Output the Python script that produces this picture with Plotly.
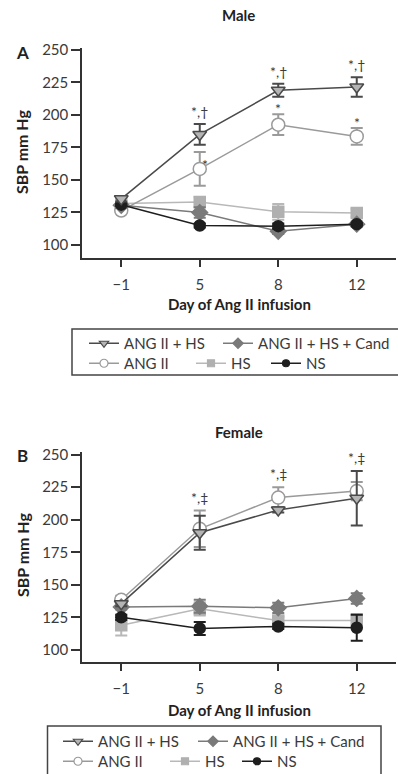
import plotly.graph_objects as go

days = ["\u22121", "5", "8", "12"]
series_names = ["ANG II + HS", "ANG II + HS + Cand", "ANG II", "HS", "NS"]

# Male (panel A)
male_angii_hs = [135.5, 185.0, 219.0, 221.5]
male_angii_hs_err = [2.0, 8.0, 5.0, 7.5]
male_cand = [130.5, 125.0, 110.5, 116.0]
male_cand_err = [2.0, 4.0, 2.0, 2.0]
male_angii = [126.5, 158.5, 192.5, 183.5]
male_angii_err = [2.0, 13.0, 8.0, 6.5]
male_hs = [132.0, 133.0, 125.5, 124.7]
male_hs_err = [2.0, 4.0, 6.0, 3.0]
male_ns = [131.0, 115.0, 114.5, 116.0]
male_ns_err = [1.0, 1.5, 2.0, 1.0]

# Female (panel B)
fem_angii_hs = [135.5, 190.0, 207.5, 216.5]
fem_angii_hs_err = [2.0, 13.0, 2.0, 21.0]
fem_cand = [133.0, 133.5, 132.3, 139.5]
fem_cand_err = [2.0, 5.0, 4.0, 4.0]
fem_angii = [138.5, 193.0, 217.0, 222.0]
fem_angii_err = [3.0, 14.0, 8.0, 7.0]
fem_hs = [119.0, 131.5, 122.5, 122.5]
fem_hs_err = [8.0, 5.0, 3.0, 5.0]
fem_ns = [125.0, 116.5, 118.0, 117.0]
fem_ns_err = [2.0, 5.0, 2.0, 10.0]

yticks = [100, 125, 150, 175, 200, 225, 250]
FONT = "Lato"
TXT = "#3a3a3a"
W, H = 398, 774

styles = {
    "ANG II + HS": dict(line="#4a4a4a", symbol="triangle-down", fill="#b4b4b4", mline="#4a4a4a", size=12, lsize=8),
    "ANG II + HS + Cand": dict(line="#7a7a7a", symbol="diamond", fill="#7a7a7a", mline="#7a7a7a", size=12, lsize=8),
    "ANG II": dict(line="#9a9a9a", symbol="circle", fill="white", mline="#9a9a9a", size=13, lsize=8),
    "HS": dict(line="#b8b8b8", symbol="square", fill="#b0b0b0", mline="#b0b0b0", size=11, lsize=7),
    "NS": dict(line="#1e1e1e", symbol="circle", fill="#1e1e1e", mline="#1e1e1e", size=11, lsize=7),
}
legend_row = {"ANG II + HS": 0, "ANG II + HS + Cand": 0, "ANG II": 1, "HS": 1, "NS": 1}
legend_w = {"ANG II + HS": 89, "ANG II + HS + Cand": 130, "ANG II": 62, "HS": 30, "NS": 30}
legend_w_b = {"ANG II + HS": 90, "ANG II + HS + Cand": 130, "ANG II": 62, "HS": 27, "NS": 30}

fig = go.Figure()

def add_panel(vals, errs, xa, ya, legs, widths):
    order = ["HS", "ANG II", "ANG II + HS + Cand", "NS", "ANG II + HS"]
    for name in order:
        s = styles[name]
        fig.add_trace(go.Scatter(
            x=days, y=vals[name], name=name, xaxis=xa, yaxis=ya,
            mode="lines+markers", showlegend=False,
            line=dict(color=s["line"], width=1.5),
            marker=dict(symbol=s["symbol"], size=s["size"], color=s["fill"],
                        line=dict(color=s["mline"], width=1.5)),
            error_y=dict(type="data", array=errs[name], color=s["line"], thickness=2, width=6),
        ))
    # legend entries (no data points, smaller symbols as in the original key)
    for name in series_names:
        s = styles[name]
        fig.add_trace(go.Scatter(
            x=[None], y=[None], name=name, xaxis=xa, yaxis=ya,
            mode="lines+markers", showlegend=True,
            line=dict(color=s["line"], width=1.5),
            marker=dict(symbol=s["symbol"], size=s["lsize"], color=s["fill"],
                        line=dict(color=s["mline"], width=1.2)),
            legend=legs[legend_row[name]], legendwidth=widths[name],
        ))

male_vals = dict(zip(series_names, [male_angii_hs, male_cand, male_angii, male_hs, male_ns]))
male_errs = dict(zip(series_names, [male_angii_hs_err, male_cand_err, male_angii_err, male_hs_err, male_ns_err]))
fem_vals = dict(zip(series_names, [fem_angii_hs, fem_cand, fem_angii, fem_hs, fem_ns]))
fem_errs = dict(zip(series_names, [fem_angii_hs_err, fem_cand_err, fem_angii_err, fem_hs_err, fem_ns_err]))

add_panel(male_vals, male_errs, "x", "y", ["legend", "legend2"], legend_w)
add_panel(fem_vals, fem_errs, "x2", "y2", ["legend3", "legend4"], legend_w_b)

def px_x(p):
    return p / W

def px_y(p):
    return 1 - p / H

axis_common = dict(
    showline=True, linecolor="#333", linewidth=1.5, ticks="outside",
    tickcolor="#333", tickwidth=1.5, showgrid=False, zeroline=False,
    tickfont=dict(family=FONT, size=15, color=TXT),
)
xdom = [px_x(82), px_x(396)]
fig.update_layout(
    xaxis=dict(domain=xdom, anchor="y", type="category", range=[-0.5, 3.5], ticklen=7,
               ticklabelstandoff=5, **axis_common),
    yaxis=dict(domain=[px_y(258), px_y(48)], anchor="x", range=[90, 251.5], tickvals=yticks, ticklen=9, **axis_common),
    xaxis2=dict(domain=xdom, anchor="y2", type="category", range=[-0.5, 3.5], ticklen=7,
                ticklabelstandoff=5, **axis_common),
    yaxis2=dict(domain=[px_y(662), px_y(452)], anchor="x2", range=[90.7, 252], tickvals=yticks, ticklen=9, **axis_common),
)

leg_common = dict(orientation="h", xanchor="left", yanchor="top", bgcolor="rgba(0,0,0,0)",
                  borderwidth=0, font=dict(family=FONT, size=15, color=TXT), itemwidth=30,
                  tracegroupgap=0, traceorder="normal")
fig.update_layout(
    legend=dict(x=px_x(84), y=px_y(327), **leg_common),
    legend2=dict(x=px_x(84), y=px_y(347), **leg_common),
    legend3=dict(x=px_x(58), y=px_y(725), **leg_common),
    legend4=dict(x=px_x(58), y=px_y(745), **leg_common),
)

shapes = [
    dict(type="rect", xref="paper", yref="paper", x0=px_x(72), x1=1.02, y0=px_y(375), y1=px_y(329),
         line=dict(color="#444", width=1.5)),
    dict(type="rect", xref="paper", yref="paper", x0=px_x(47.5), x1=px_x(381), y0=-0.02, y1=px_y(726),
         line=dict(color="#444", width=1.5)),
]

ann = []
def t(text, x, y, size, bold=False, angle=0):
    ann.append(dict(text=f"<b>{text}</b>" if bold else text, x=x, y=y, xref="paper", yref="paper",
                    showarrow=False, textangle=angle, xanchor="center", yanchor="middle",
                    font=dict(family=FONT, size=size, color="#222")))

t("Male", px_x(238.5), px_y(15), 15, True)
t("Female", px_x(238.5), px_y(432), 15, True)
t("Day of Ang II infusion", px_x(239), px_y(304), 15, True)
t("Day of Ang II infusion", px_x(239), px_y(710), 15, True)
t("A", px_x(22), px_y(52), 17, True)
t("B", px_x(22), px_y(455), 17, True)
t("SBP mm Hg", px_x(22), px_y(152), 16, True, -90)
t("SBP mm Hg", px_x(22), px_y(555), 16, True, -90)

def mark(text, xa, ya, i, y, yanchor="bottom", yshift=2, xshift=0):
    ann.append(dict(text=text, x=i, y=y, xref=xa, yref=ya, showarrow=False,
                    yanchor=yanchor, xanchor="center", yshift=yshift, xshift=xshift,
                    font=dict(family=FONT, size=14, color=TXT)))

for i in (1, 2, 3):
    mark("*,\u2020", "x", "y", i, male_angii_hs[i] + male_angii_hs_err[i], yshift=2)
for i in (2, 3):
    mark("*", "x", "y", i, male_angii[i] + male_angii_err[i], yshift=-5)
mark("*", "x", "y", 1, male_angii[1], yanchor="middle", yshift=4, xshift=5)
for i in (1, 2, 3):
    top = max(fem_angii_hs[i] + fem_angii_hs_err[i], fem_angii[i] + fem_angii_err[i])
    mark("*,\u2021", "x2", "y2", i, top, yshift=3)

fig.update_layout(
    width=W, height=H, margin=dict(l=0, r=0, t=0, b=0, autoexpand=False),
    paper_bgcolor="white", plot_bgcolor="white",
    annotations=ann, shapes=shapes,
    font=dict(family=FONT, color=TXT),
)

fig.write_html("out.html")
